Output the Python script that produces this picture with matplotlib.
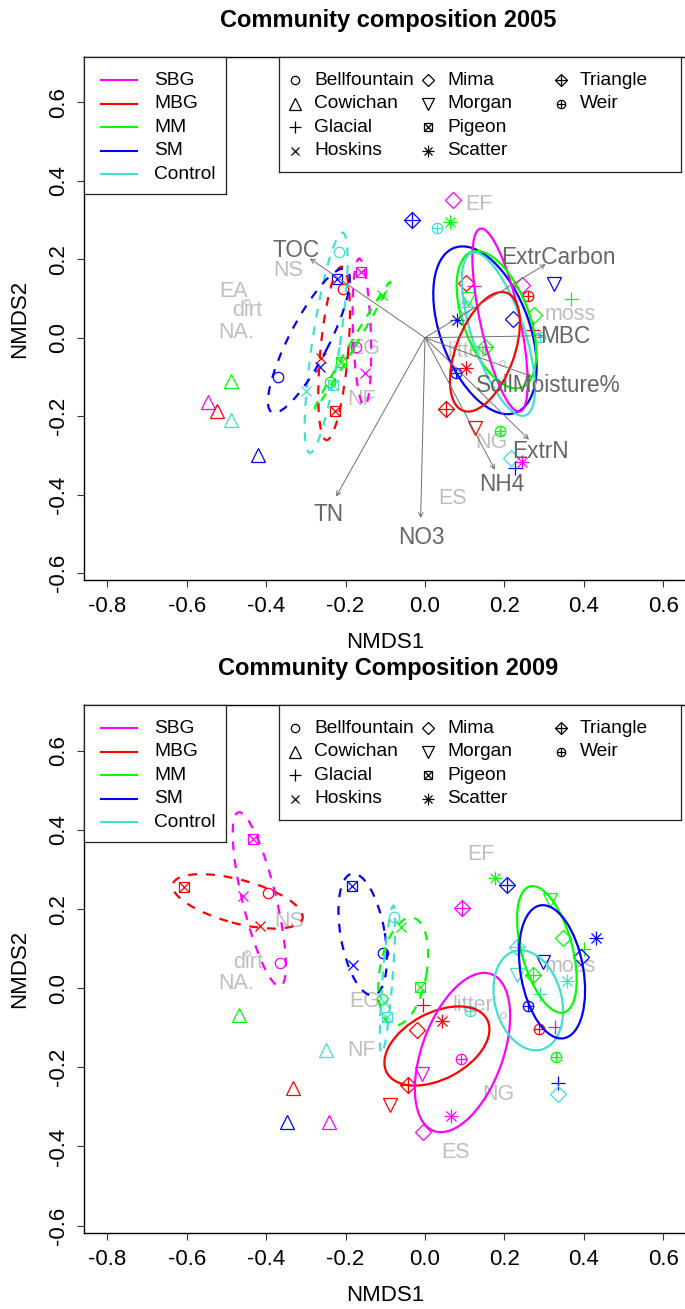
import numpy as np
import matplotlib.pyplot as plt
from matplotlib.patches import Ellipse

plt.rcParams['font.family'] = ['Liberation Sans', 'DejaVu Sans']
plt.rcParams['axes.unicode_minus'] = False

groups = ["SBG", "MBG", "MM", "SM", "Control"]
group_cols = ["#FF00FF", "#FF0000", "#00FF00", "#0000FF", "#40E0D0"]
sites = ["Bellfountain", "Cowichan", "Glacial", "Hoskins", "Mima",
         "Morgan", "Pigeon", "Scatter", "Triangle", "Weir"]

# ---- 2005 site scores ----
grp05 = ["Control", "SM", "MBG", "SBG", "MM", "SBG", "SBG", "MBG", "SM", "MM",
         "Control", "MM", "Control", "SM", "MBG", "MM", "SBG", "MBG", "Control", "SM",
         "SBG", "SM", "Control", "MM", "SM", "MM", "MBG", "SBG", "MM", "Control",
         "SBG", "MBG", "SM", "SM", "MM", "MBG", "Control", "MM", "MBG", "SM",
         "MBG", "MBG", "MM", "Control", "SBG", "SM"]
site05 = ["Bellfountain", "Pigeon", "Bellfountain", "Pigeon", "Hoskins", "Bellfountain", "Hoskins", "Hoskins", "Hoskins", "Pigeon",
          "Pigeon", "Bellfountain", "Hoskins", "Bellfountain", "Pigeon", "Cowichan", "Cowichan", "Cowichan", "Cowichan", "Cowichan",
          "Mima", "Triangle", "Weir", "Scatter", "Morgan", "Glacial", "Mima", "Glacial", "Morgan", "Triangle",
          "Mima", "Weir", "Scatter", "Mima", "Mima", "Glacial", "Weir", "Triangle", "Scatter", "Weir",
          "Triangle", "Morgan", "Weir", "Mima", "Scatter", "Glacial"]
x05 = [-0.216, -0.222, -0.206, -0.161, -0.109, -0.174, -0.151, -0.263, -0.264, -0.212,
       -0.232, -0.239, -0.300, -0.371, -0.227, -0.489, -0.547, -0.523, -0.489, -0.420,
       0.070, -0.034, 0.031, 0.063, 0.325, 0.367, 0.102, 0.123, 0.109, 0.101,
       0.244, 0.259, 0.080, 0.222, 0.275, 0.273, 0.290, 0.151, 0.103, 0.078,
       0.052, 0.126, 0.190, 0.217, 0.244, 0.227]
y05 = [0.219, 0.151, 0.124, 0.168, 0.109, -0.023, -0.089, -0.052, -0.074, -0.061,
       -0.120, -0.112, -0.137, -0.099, -0.188, -0.110, -0.165, -0.188, -0.211, -0.298,
       0.352, 0.301, 0.281, 0.295, 0.137, 0.098, 0.140, 0.131, 0.100, 0.079,
       0.134, 0.106, 0.045, 0.049, 0.058, 0.020, 0.003, -0.023, -0.078, -0.091,
       -0.182, -0.231, -0.237, -0.307, -0.317, -0.332]

# ellipses 2005: group, centre, full axes, angle, dashed
egrp05 = ["Control", "MBG", "SBG", "MM", "SM", "SM", "SBG", "MM", "Control", "MBG"]
ecx05 = [-0.249, -0.229, -0.159, -0.1825, -0.2925, 0.151, 0.189, 0.180, 0.185, 0.151]
ecy05 = [-0.013, -0.040, 0.014, -0.019, -0.0075, 0.019, 0.045, 0.046, 0.009, -0.036]
ew05 = [0.568, 0.444, 0.376, 0.374, 0.410, 0.448, 0.477, 0.368, 0.436, 0.320]
eh05 = [0.070, 0.070, 0.045, 0.014, 0.100, 0.224, 0.100, 0.166, 0.132, 0.147]
eang05 = [81.6, 85, 92, 59.6, 63, -70, 102, -70, -72, 70]
edash05 = [True, True, True, True, True, False, False, False, False, False]

# species labels 2005
sp05 = ["EF", "NS", "EA", "dirt", "NA.", "EG", "NF", "moss", "litter", "NG", "ES"]
spx05 = [0.137, -0.344, -0.481, -0.447, -0.476, -0.151, -0.161, 0.365, 0.109, 0.168, 0.070]
spy05 = [0.339, 0.172, 0.117, 0.070, 0.013, -0.027, -0.158, 0.060, -0.036, -0.267, -0.410]
sppx05 = [-0.449, 0.193]
sppy05 = [0.092, -0.065]

# environmental vectors 2005
env = ["TOC", "ExtrCarbon", "MBC", "SoilMoisture%", "ExtrN", "NH4", "NO3", "TN"]
envx = [-0.290, 0.304, 0.298, 0.269, 0.262, 0.176, -0.011, -0.224]
envy = [0.202, 0.1875, 0.005, -0.099, -0.260, -0.337, -0.460, -0.405]
envlx = [-0.325, 0.336, 0.353, 0.310, 0.290, 0.193, -0.008, -0.244]
envly = [0.223, 0.2045, 0.003, -0.123, -0.290, -0.375, -0.510, -0.451]

# ---- 2009 site scores ----
grp09 = ["SBG", "MBG", "SBG", "MBG", "MBG", "SBG", "MM", "Control", "MBG", "SM",
         "SBG", "SM", "SM", "SM", "Control", "MM", "MM", "Control", "Control", "MBG",
         "MM", "SM", "SBG", "MM", "SM", "MM", "MM", "SM", "Control", "SM",
         "Control", "MM", "Control", "Control", "SM", "MBG", "SBG", "MM", "SM", "Control",
         "MM", "MBG", "MBG", "Control", "MBG", "SBG", "SBG", "MBG", "SBG", "SBG"]
site09 = ["Pigeon", "Pigeon", "Hoskins", "Bellfountain", "Hoskins", "Bellfountain", "Cowichan", "Cowichan", "Cowichan", "Cowichan",
          "Cowichan", "Pigeon", "Hoskins", "Bellfountain", "Bellfountain", "Hoskins", "Bellfountain", "Hoskins", "Pigeon", "Morgan",
          "Scatter", "Triangle", "Triangle", "Morgan", "Scatter", "Mima", "Glacial", "Mima", "Triangle", "Morgan",
          "Morgan", "Triangle", "Scatter", "Glacial", "Weir", "Weir", "Glacial", "Weir", "Glacial", "Mima",
          "Pigeon", "Glacial", "Scatter", "Weir", "Mima", "Weir", "Morgan", "Triangle", "Scatter", "Mima"]
x09 = [-0.434, -0.606, -0.458, -0.396, -0.416, -0.365, -0.469, -0.249, -0.332, -0.347,
       -0.241, -0.185, -0.182, -0.107, -0.078, -0.061, -0.109, -0.103, -0.095, -0.088,
       0.176, 0.207, 0.092, 0.315, 0.431, 0.348, 0.400, 0.393, 0.231, 0.296,
       0.231, 0.271, 0.357, 0.290, 0.260, 0.288, 0.327, 0.329, 0.334, 0.336,
       -0.013, -0.004, 0.044, 0.113, -0.021, 0.091, -0.008, -0.042, 0.065, -0.004]
y09 = [0.377, 0.256, 0.233, 0.240, 0.157, 0.064, -0.067, -0.157, -0.252, -0.338,
       -0.338, 0.259, 0.058, 0.089, 0.180, 0.154, -0.028, -0.035, -0.073, -0.296,
       0.278, 0.261, 0.202, 0.223, 0.126, 0.128, 0.100, 0.078, 0.105, 0.067,
       0.033, 0.033, 0.019, -0.015, -0.045, -0.102, -0.098, -0.175, -0.239, -0.268,
       0.003, -0.043, -0.084, -0.057, -0.105, -0.178, -0.216, -0.244, -0.322, -0.364]

egrp09 = ["MBG", "SBG", "SM", "MM", "Control", "MBG", "SBG", "Control", "MM", "SM"]
ecx09 = [-0.472, -0.4175, -0.157, -0.055, -0.0945, 0.030, 0.0945, 0.260, 0.307, 0.320]
ecy09 = [0.2195, 0.225, 0.136, 0.0425, 0.0215, -0.146, -0.1625, -0.0305, 0.098, 0.0415]
ew09 = [0.338, 0.452, 0.312, 0.276, 0.376, 0.286, 0.422, 0.258, 0.330, 0.341]
eh09 = [0.110, 0.085, 0.111, 0.118, 0.025, 0.168, 0.204, 0.168, 0.128, 0.158]
eang09 = [-15, 103.5, 100, 80, 85.5, 28, 70, 105, 105, 100]
edash09 = [True, True, True, True, True, False, False, False, False, False]

sp09 = ["EF", "NS", "dirt", "NA.", "EG", "NF", "moss", "litter", "NG", "ES"]
spx09 = [0.141, -0.343, -0.445, -0.476, -0.151, -0.161, 0.365, 0.120, 0.186, 0.076]
spy09 = [0.338, 0.168, 0.064, 0.012, -0.033, -0.157, 0.054, -0.043, -0.268, -0.414]
sppx09 = [-0.449, 0.197]
sppy09 = [0.090, -0.068]

# marker pieces for each site (R pch 1..10)
site_marks = {
    "Bellfountain": [("o", 7.5)],
    "Cowichan": [("^", 10)],
    "Glacial": [("+", 10)],
    "Hoskins": [("x", 7.5)],
    "Mima": [("D", 8)],
    "Morgan": [("v", 10)],
    "Pigeon": [("s", 7.5), ("x", 7.5)],
    "Scatter": [("+", 10), ("x", 7.5)],
    "Triangle": [("D", 8), ("+", 11)],
    "Weir": [("o", 7.5), ("+", 7.5)],
}
col_of = dict(zip(groups, group_cols))

W, H = 685, 1309
fig = plt.figure(figsize=(W / 100, H / 100), dpi=100)


def fbox(l, t, r, b):
    return [l / W, 1 - b / H, (r - l) / W, (b - t) / H]


def fmt(v, p):
    if abs(v) < 1e-9:
        v = 0.0
    return "%.1f" % v


def mark(ax, x, y, site, col, scale=1.0, z=3):
    for m, ms in site_marks[site]:
        ax.plot([x], [y], marker=m, ms=ms * scale, mfc="none", mec=col,
                mew=0.9, ls="none", zorder=z, clip_on=False)


def legends(top):
    lg = fig.add_axes(fbox(84, top, 226, top + 137), zorder=5)
    lg.set_xlim(0, 142)
    lg.set_ylim(137, 0)
    for i, (g, c) in enumerate(zip(groups, group_cols)):
        y = 23.3 + i * 23.5
        lg.plot([17, 53], [y, y], color=c, lw=1.5)
        lg.text(70, y, g, va="center", fontsize=13.8)
    lg2 = fig.add_axes(fbox(279, top, 681, top + 115), zorder=5)
    lg2.set_xlim(0, 402)
    lg2.set_ylim(115, 0)
    for i, s in enumerate(sites):
        col, row = divmod(i, 4)
        sx = 16 + col * 133
        y = 23.3 + row * 23.5
        mark(lg2, sx, y, s, "black", scale=0.8)
        lg2.text(sx + 19, y, s, va="center", fontsize=13.8)
    for a in (lg, lg2):
        a.set_xticks([])
        a.set_yticks([])
        for sp in a.spines.values():
            sp.set_linewidth(0.9)
            sp.set_color("#222222")


def panel(top, bottom, title, grp, site, xs, ys, eg, ecx, ecy, ew, eh, ea, ed,
          sp, spx, spy, sppx, sppy, vectors=False):
    ax = fig.add_axes(fbox(84, top, 690, bottom))
    ax.set_xlim(-0.859, 0.6675)
    ax.set_ylim(-0.618, 0.716)
    ax.spines["right"].set_visible(False)
    for s in ax.spines.values():
        s.set_linewidth(1.0)
    ax.set_xticks(np.round(np.arange(-0.8, 0.61, 0.2), 1))
    ax.set_yticks(np.round(np.arange(-0.6, 0.61, 0.2), 1))
    ax.xaxis.set_major_formatter(plt.FuncFormatter(fmt))
    ax.yaxis.set_major_formatter(plt.FuncFormatter(fmt))
    ax.tick_params(length=5, width=0.8, labelsize=16, color="#333333")
    ax.tick_params(axis="x", pad=6.5)
    ax.tick_params(axis="y", pad=6)
    plt.setp(ax.get_yticklabels(), rotation=90, va="center")
    ax.set_xlabel("NMDS1", fontsize=16)
    ax.set_ylabel("NMDS2", fontsize=16)
    h = bottom - top
    ax.xaxis.set_label_coords((385 - 84) / 606, -63 / h)
    ax.xaxis.label.set_va("center")
    ax.yaxis.set_label_coords((20 - 84) / 606, 0.5)
    ax.yaxis.label.set_va("center")
    fig.text(388 / W, 1 - (top - 36) / H, title, ha="center", va="center",
             fontsize=17, fontweight="bold")

    for t, x, y in zip(sp, spx, spy):
        ax.text(x, y, t, color="#BEBEBE", fontsize=15.5, ha="center", va="center", zorder=1)
    ax.plot(sppx, sppy, "o", ms=4, mfc="none", mec="#BEBEBE", mew=0.8, zorder=1)

    for g, s, x, y in zip(grp, site, xs, ys):
        mark(ax, x, y, s, col_of[g])

    for g, cx, cy, w, hh, a, d in zip(eg, ecx, ecy, ew, eh, ea, ed):
        e = Ellipse((cx, cy), w, hh, angle=a, fill=False, ec=col_of[g], lw=1.6,
                    ls=(0, (4, 4)) if d else "-", zorder=4)
        ax.add_patch(e)

    if vectors:
        for n, x, y, lx, ly in zip(env, envx, envy, envlx, envly):
            ax.annotate("", xy=(x, y), xytext=(0, 0),
                        arrowprops=dict(arrowstyle="->", color="#707070", lw=0.7,
                                        mutation_scale=8, shrinkA=0, shrinkB=0), zorder=5)
            ax.text(lx, ly, n, color="#666666", fontsize=16.3, ha="center", va="center", zorder=5)
    return ax


ax1 = panel(57, 580, "Community composition 2005", grp05, site05, x05, y05,
            egrp05, ecx05, ecy05, ew05, eh05, eang05, edash05,
            sp05, spx05, spy05, sppx05, sppy05, vectors=True)
ax2 = panel(705, 1232.7, "Community Composition 2009", grp09, site09, x09, y09,
            egrp09, ecx09, ecy09, ew09, eh09, eang09, edash09,
            sp09, spx09, spy09, sppx09, sppy09)
legends(57)
legends(705)

fig.savefig("out.png", dpi=100)
